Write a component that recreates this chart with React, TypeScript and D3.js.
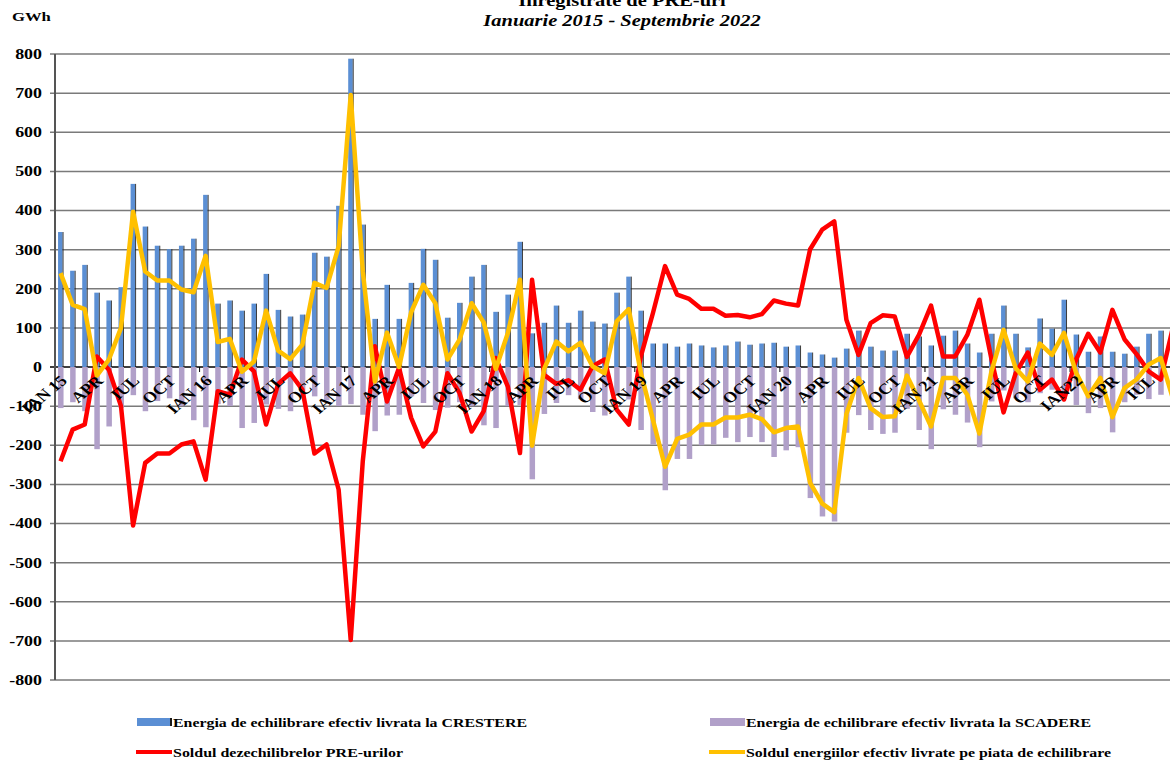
import React from 'react';
import * as d3 from 'd3';

// Ianuarie 2015 - Septembrie 2022, one entry per month
const years = ['15', '16', '17', '18', '19', '20', '21', '22'];
const monthNames = ['IAN', 'FEB', 'MAR', 'APR', 'MAI', 'IUN', 'IUL', 'AUG', 'SEP', 'OCT', 'NOI', 'DEC'];
const months: string[] = years.flatMap((y) => monthNames.map((m) => `${m} ${y}`)).slice(0, 93);

// Energia de echilibrare efectiv livrata la CRESTERE (GWh)
const crestere = [
  345, 246, 261, 190, 170, 204, 468, 359, 310, 301, 310, 328,
  440, 162, 170, 144, 162, 238, 146, 129, 134, 292, 282, 412,
  788, 364, 123, 210, 123, 215, 302, 274, 126, 164, 231, 261,
  141, 185, 320, 86, 113, 157, 113, 144, 116, 111, 190, 231,
  144, 60, 60, 52, 60, 55, 50, 55, 65, 57, 60, 62,
  52, 55, 37, 32, 24, 47, 93, 52, 42, 42, 85, 78,
  55, 80, 93, 60, 37, 85, 157, 85, 50, 124, 98, 172,
  83, 39, 78, 39, 34, 52, 85, 93, 70,
];

// Energia de echilibrare efectiv livrata la SCADERE (GWh)
const scadere = [
  -105, -90, -113, -210, -152, -104, -72, -113, -87, -80, -100, -136,
  -154, -95, -100, -156, -143, -96, -107, -113, -77, -75, -85, -100,
  -95, -122, -164, -124, -122, -75, -92, -110, -104, -90, -100, -149,
  -156, -100, -97, -287, -120, -92, -72, -82, -115, -124, -73, -83,
  -161, -198, -315, -235, -235, -200, -198, -181, -192, -179, -192, -230,
  -213, -205, -335, -382, -395, -168, -123, -161, -171, -168, -107, -161,
  -210, -108, -122, -142, -205, -88, -60, -80, -90, -67, -58, -82,
  -97, -118, -105, -167, -90, -71, -82, -71, -150,
];

// Soldul dezechilibrelor PRE-urilor (GWh)
const soldPRE = [
  -241, -160, -147, 27, -7, -100, -405, -245, -221, -221, -198, -190,
  -288, -62, -71, 19, -11, -147, -43, -16, -58, -221, -198, -313,
  -698, -240, 53, -88, -2, -130, -203, -165, -16, -66, -165, -113,
  23, -50, -220, 223, -20, -43, -34, -58, 2, 19, -109, -147,
  27, 138, 258, 185, 174, 149, 149, 131, 133, 127, 135, 170,
  162, 157, 301, 351, 372, 121, 31, 112, 132, 129, 26, 82,
  157, 27, 27, 82, 172, 20, -116, -16, 37, -58, -32, -83,
  19, 85, 37, 146, 71, 33, -11, -32, 100,
];

// Soldul energiilor efectiv livrate pe piata de echilibrare (GWh)
const soldPiata = [
  240, 159, 148, -22, 19, 100, 397, 244, 221, 221, 198, 191,
  284, 64, 72, -12, 14, 144, 42, 20, 57, 215, 202, 308,
  695, 245, -37, 88, 0, 140, 210, 163, 19, 70, 163, 114,
  -5, 87, 223, -201, -5, 65, 40, 62, 2, -16, 117, 148,
  -15, -135, -255, -184, -173, -147, -147, -129, -129, -122, -133, -167,
  -156, -152, -296, -349, -371, -120, -28, -105, -128, -126, -22, -85,
  -152, -28, -28, -71, -170, -11, 95, -3, -37, 60, 31, 87,
  -15, -75, -28, -128, -54, -32, 6, 23, -80,
];

// shown tick labels (every 3 months)
const tickLabels: Record<string, string> = {
  'IAN 15': 'IAN 15', 'APR': 'APR', 'IUL': 'IUL', 'OCT': 'OCT',
  'IAN 16': 'IAN 16', 'IAN 17': 'IAN 17', 'IAN 18': 'IAN 18', 'IAN 19': 'IAN 19',
  'IAN 20': 'IAN 20', 'IAN 21': 'IAN 21', 'IAN 22': 'IAN22',
};
const yTicks = d3.range(-800, 801, 100);

const FONT = '"Liberation Serif", "Times New Roman", serif';
const BLUE = '#5b8fd4';
const PURPLE = '#b1a0c9';
const RED = '#ff0000';
const YELLOW = '#ffc000';
const SX = 1.28; // the source picture is stretched horizontally

const App: React.FC = () => {
  const width = 1170;
  const height = 760;

  const x = d3.scaleBand<string>().domain(months).range([54.5, 54.5 + 93 * 12.09]).paddingInner(0);
  const y = d3.scaleLinear().domain([-800, 800]).range([680, 54]);
  const cx = (i: number) => (x(months[i]) ?? 0) + x.bandwidth() / 2;

  const line = d3
    .line<number>()
    .x((_, i) => cx(i))
    .y((d) => y(d));

  const labelFor = (m: string) => {
    const [name] = m.split(' ');
    if (name === 'IAN') return tickLabels[m] ?? m;
    if (name === 'APR' || name === 'IUL' || name === 'OCT') return tickLabels[name];
    return null;
  };

  const legend = [
    { x: 137, y: 722, kind: 'bar', color: BLUE, text: 'Energia de echilibrare efectiv livrata la CRESTERE', len: 354 },
    { x: 710, y: 722, kind: 'bar', color: PURPLE, text: 'Energia de echilibrare efectiv livrata la SCADERE', len: 345 },
    { x: 137, y: 752, kind: 'line', color: RED, text: 'Soldul dezechilibrelor PRE-urilor', len: 230 },
    { x: 710, y: 752, kind: 'line', color: YELLOW, text: 'Soldul energiilor efectiv livrate pe piata de echilibrare', len: 365 },
  ];

  return (
    <svg
      width={width}
      height={height}
      style={{ position: 'absolute', left: 0, top: 0, background: '#fff' }}
      fontFamily={FONT}
    >
      {/* title */}
      <g transform={`translate(622,0) scale(${SX},1)`} fontWeight="bold" fontSize={16} textAnchor="middle">
        <text x={0} y={6}>Inregistrate de PRE-uri</text>
        <text x={0} y={26} fontStyle="italic">Ianuarie 2015 - Septembrie 2022</text>
      </g>
      <text transform={`translate(12,21) scale(${SX},1)`} fontWeight="bold" fontSize={13}>
        GWh
      </text>

      {/* grid + y axis */}
      {yTicks.map((t) => (
        <g key={t}>
          <line x1={50} x2={width} y1={y(t)} y2={y(t)} stroke={t === 0 ? '#000' : '#7a7a7a'} strokeWidth={1.5} />
          <text
            transform={`translate(42,${y(t)}) scale(${SX},1)`}
            dy="0.35em"
            textAnchor="end"
            fontWeight="bold"
            fontSize={14}
          >
            {t}
          </text>
        </g>
      ))}
      <line x1={55} x2={55} y1={y(800)} y2={y(-800)} stroke="#555" strokeWidth={2} />

      {/* bars */}
      {scadere.map((v, i) => (
        <rect key={`s${i}`} x={cx(i) - 2.5} width={5.5} y={y(0)} height={y(v) - y(0)} fill={PURPLE} />
      ))}
      {crestere.map((v, i) => (
        <g key={`c${i}`}>
          <rect x={cx(i) - 2.5} width={4.5} y={y(v)} height={y(0) - y(v)} fill={BLUE} />
          <rect x={cx(i) + 2} width={1} y={y(v)} height={y(0) - y(v)} fill="#1a1a1a" opacity={0.85} />
        </g>
      ))}

      {/* year ticks on zero line */}
      {months.map((m, i) =>
        i > 0 && i % 12 === 0 ? (
          <line key={`t${i}`} x1={x(m)} x2={x(m)} y1={y(0)} y2={y(0) + 5} stroke="#000" strokeWidth={1} />
        ) : null
      )}

      {/* lines */}
      <path d={line(soldPRE) ?? ''} fill="none" stroke={RED} strokeWidth={4.5} strokeLinejoin="round" />
      <path d={line(soldPiata) ?? ''} fill="none" stroke={YELLOW} strokeWidth={4.5} strokeLinejoin="round" />

      {/* x labels */}
      {months.map((m, i) => {
        const lab = labelFor(m);
        if (!lab) return null;
        const lx = cx(i) + 3;
        const ly = y(0) + 11;
        return (
          <text
            key={`l${i}`}
            dy="0.35em"
            textAnchor="end"
            fontWeight="bold"
            fontSize={15}
            transform={`translate(${lx},${ly}) scale(1.2,1) rotate(-45)`}
          >
            {lab}
          </text>
        );
      })}

      {/* legend */}
      <g fontWeight="bold" fontSize={13}>
        {legend.map((l) => (
          <g key={l.text}>
            {l.kind === 'bar' ? (
              <>
                <rect x={l.x} y={l.y - 4} width={35} height={8} fill={l.color} />
                {l.color === BLUE && <rect x={l.x + 33} y={l.y - 4} width={2} height={8} fill="#1a1a1a" />}
              </>
            ) : (
              <line x1={l.x - 1} x2={l.x + 35} y1={l.y} y2={l.y} stroke={l.color} strokeWidth={4} />
            )}
            <text x={l.x + 36} y={l.y + 5} textLength={l.len} lengthAdjust="spacingAndGlyphs">
              {l.text}
            </text>
          </g>
        ))}
      </g>
    </svg>
  );
};

export default App;
